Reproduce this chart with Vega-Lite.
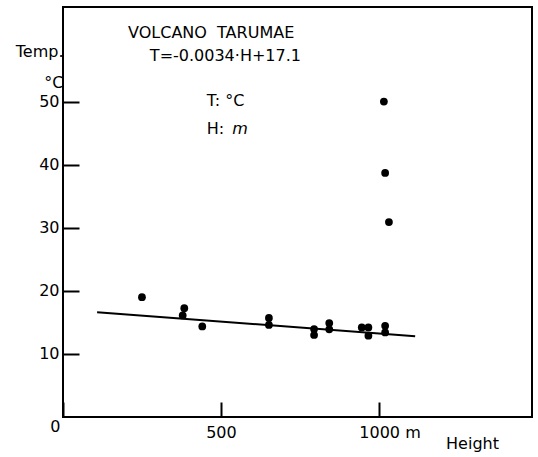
{
  "$schema": "https://vega.github.io/schema/vega-lite/v6.json",
  "width": 469,
  "height": 410,
  "autosize": {"type": "none"},
  "padding": {"left": 63, "top": 7, "right": 6, "bottom": 40},
  "background": "white",
  "config": {
    "view": {"stroke": "black", "strokeWidth": 2},
    "font": "DejaVu Sans",
    "axis": {
      "grid": false,
      "domain": false,
      "tickColor": "black",
      "tickWidth": 2,
      "labelColor": "black",
      "titleColor": "black",
      "labelFont": "DejaVu Sans",
      "titleFont": "DejaVu Sans",
      "labelFontSize": 16,
      "titleFontSize": 16,
      "titleFontWeight": "normal"
    }
  },
  "datasets": {
    "points": [
      {"height": 250, "temp": 19.0},
      {"height": 384, "temp": 17.25},
      {"height": 379, "temp": 16.1},
      {"height": 441, "temp": 14.35},
      {"height": 652, "temp": 15.7},
      {"height": 652, "temp": 14.6},
      {"height": 795, "temp": 13.95},
      {"height": 795, "temp": 13.0},
      {"height": 843, "temp": 14.9},
      {"height": 843, "temp": 13.9},
      {"height": 946, "temp": 14.2},
      {"height": 967, "temp": 14.2},
      {"height": 967, "temp": 12.9},
      {"height": 1020, "temp": 14.45},
      {"height": 1020, "temp": 13.4},
      {"height": 1016, "temp": 50.0},
      {"height": 1020, "temp": 38.7},
      {"height": 1032, "temp": 30.9}
    ],
    "fit": [
      {"height": 108, "temp": 16.6},
      {"height": 1115, "temp": 12.8}
    ],
    "notes": [
      {"height": 206, "temp": 60.9, "label": "VOLCANO\u00a0 TARUMAE"},
      {"height": 275, "temp": 57.3, "label": "T=-0.0034·H+17.1"},
      {"height": 455, "temp": 50.1, "label": "T: °C"},
      {"height": 455, "temp": 45.6, "label": "H:"}
    ],
    "italic": [
      {"height": 536, "temp": 45.6, "label": "m"}
    ]
  },
  "encoding": {
    "x": {
      "field": "height",
      "type": "quantitative",
      "scale": {"domain": [0, 1485], "nice": false, "zero": true},
      "axis": {
        "values": [0, 500, 1000],
        "tickSize": -15,
        "labelBaseline": "top",
        "labelFlush": false,
        "labelOverlap": false,
        "labelExpr": "datum.value == 1000 ? '1000 m' : datum.label",
        "labelAlign": {"condition": [{"test": "datum.value == 0", "value": "right"}, {"test": "datum.value == 1000", "value": "left"}], "value": "center"},
        "labelOffset": {"condition": [{"test": "datum.value == 0", "value": -3}, {"test": "datum.value == 1000", "value": -20}], "value": 0},
        "labelPadding": {"condition": {"test": "datum.value == 0", "value": 16}, "value": 22},
        "title": "Height",
        "titleX": 409,
        "titleY": 31.5,
        "titleAlign": "center",
        "titleBaseline": "alphabetic"
      }
    },
    "y": {
      "field": "temp",
      "type": "quantitative",
      "scale": {"domain": [0, 65], "nice": false, "zero": true},
      "axis": {
        "values": [10, 20, 30, 40, 50],
        "tickSize": -16,
        "labelPadding": 20,
        "labelOverlap": false,
        "labelFlush": false,
        "title": ["Temp.", "°C"],
        "titleAngle": 0,
        "titleAlign": "right",
        "titleBaseline": "alphabetic",
        "titleX": 0,
        "titleY": 49,
        "titleLineHeight": 31
      }
    }
  },
  "layer": [
    {
      "data": {"name": "points"},
      "mark": {"type": "circle", "size": 60, "color": "black", "opacity": 1}
    },
    {
      "data": {"name": "fit"},
      "mark": {"type": "line", "color": "black", "strokeWidth": 2}
    },
    {
      "data": {"name": "notes"},
      "mark": {"type": "text", "align": "left", "baseline": "middle", "fontSize": 16, "color": "black", "font": "DejaVu Sans"},
      "encoding": {"text": {"field": "label"}}
    },
    {
      "data": {"name": "italic"},
      "mark": {"type": "text", "align": "left", "baseline": "middle", "fontSize": 16, "fontStyle": "italic", "color": "black", "font": "DejaVu Sans"},
      "encoding": {"text": {"field": "label"}}
    }
  ]
}
